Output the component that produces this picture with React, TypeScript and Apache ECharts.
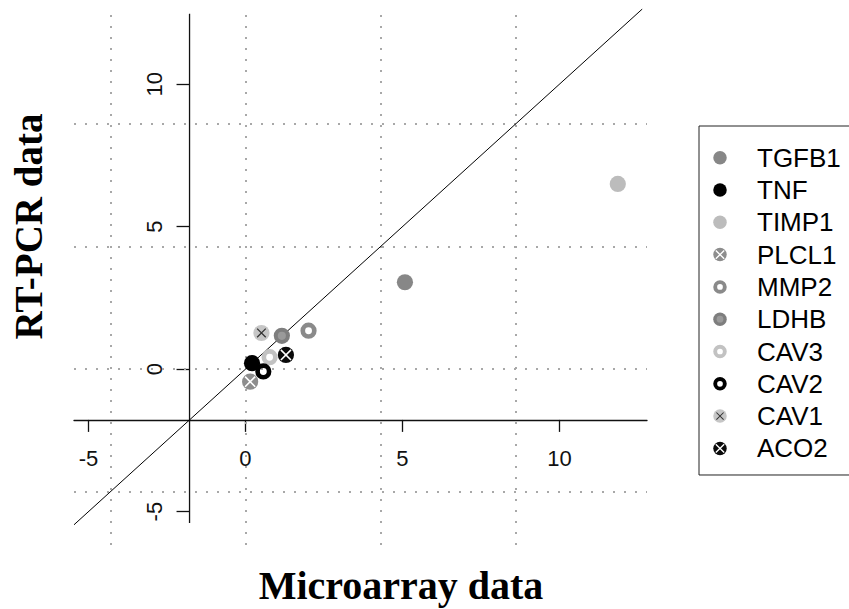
import React, { useEffect, useRef } from "react";
import * as echarts from "echarts";

// ---- data ----
const genes = ["TGFB1", "TNF", "TIMP1", "PLCL1", "MMP2", "LDHB", "CAV3", "CAV2", "CAV1", "ACO2"];
const microarray = [5.08, 0.21, 11.86, 0.15, 2.01, 1.16, 0.77, 0.57, 0.51, 1.29];
const rtpcr = [3.05, 0.21, 6.5, -0.44, 1.35, 1.17, 0.42, -0.08, 1.27, 0.5];
const markerKinds = ["disk", "disk", "disk", "diskX", "ring", "diskCore", "ring", "ring", "diskXDark", "diskX"];
const markerColors = ["#878787", "#000000", "#bcbcbc", "#8d8d8d", "#8a8a8a", "#7e7e7e", "#c2c2c2", "#000000", "#c6c6c6", "#0a0a0a"];
const tickValues = [-5, 0, 5, 10];
const gridValues = [-4.3, 0, 4.3, 8.6];
const xRange = [-5.46, 12.79];
const yRange = [-6.17, 12.64];
const axisCross = -1.78;
const yAxisLineSpan = [-5.4, 12.47];
const xTitle = "Microarray data";
const yTitle = "RT-PCR data";

function markerSymbol(kind: string, color: string): string {
  let body = "";
  if (kind === "ring") {
    body = `<circle cx="10" cy="10" r="6.4" fill="none" stroke="${color}" stroke-width="5.2"/>`;
  } else {
    body = `<circle cx="10" cy="10" r="9" fill="${color}"/>`;
  }
  if (kind === "diskX") {
    body += `<path d="M4.4 4.4L15.6 15.6M15.6 4.4L4.4 15.6" stroke="#ffffff" stroke-width="1.8"/>`;
  }
  if (kind === "diskXDark") {
    body += `<path d="M5.2 5.2L14.8 14.8M14.8 5.2L5.2 14.8" stroke="#333333" stroke-width="1.4"/>`;
  }
  if (kind === "diskCore") {
    body += `<circle cx="10" cy="10" r="4.5" fill="#9a9a9a"/>`;
  }
  const svg = `<svg xmlns="http://www.w3.org/2000/svg" width="20" height="20" viewBox="0 0 20 20">${body}</svg>`;
  return "image://data:image/svg+xml;charset=utf-8," + encodeURIComponent(svg);
}

export default function App() {
  const ref = useRef<HTMLDivElement>(null);

  useEffect(() => {
    document.body.style.margin = "0";
    if (!ref.current) return;
    const chart = echarts.init(ref.current, null, { renderer: "svg" });

    const grid = { left: 74, top: 9, width: 573, height: 536 };
    const xOffset = -((axisCross - yRange[0]) / (yRange[1] - yRange[0])) * grid.height;
    const yOffset = -((axisCross - xRange[0]) / (xRange[1] - xRange[0])) * grid.width;
    const symbols = genes.map((_, i) => markerSymbol(markerKinds[i], markerColors[i]));
    const axisColor = "#111111";
    const labelFont = "Liberation Sans";

    const diagLo = Math.max(xRange[0], yRange[0]);
    const diagHi = Math.min(xRange[1], yRange[1]);

    const option: any = {
      animation: false,
      backgroundColor: "#ffffff",
      grid: { ...grid, containLabel: false, outerBoundsMode: "none" },
      xAxis: {
        type: "value",
        min: xRange[0],
        max: xRange[1],
        position: "bottom",
        offset: xOffset,
        axisLine: { show: true, onZero: false, lineStyle: { color: axisColor, width: 1.3 } },
        axisTick: { show: true, customValues: tickValues, length: 12, lineStyle: { color: axisColor, width: 1.3 } },
        axisLabel: { customValues: tickValues, margin: 28, fontSize: 22, fontFamily: labelFont, color: axisColor },
        splitLine: { show: false },
      },
      yAxis: {
        type: "value",
        min: yRange[0],
        max: yRange[1],
        position: "left",
        offset: yOffset,
        axisLine: { show: false, onZero: false },
        axisTick: { show: true, customValues: tickValues, length: 13, lineStyle: { color: axisColor, width: 1.3 } },
        axisLabel: { customValues: tickValues, rotate: 90, margin: 24, fontSize: 22, fontFamily: labelFont, color: axisColor },
        splitLine: { show: false },
      },
      legend: {
        orient: "vertical",
        left: 699,
        top: 126,
        padding: [17.7, 50, 12.6, 13.5],
        itemWidth: 15,
        itemHeight: 15,
        itemGap: 4.3,
        borderColor: "#222222",
        borderWidth: 1,
        selectedMode: false,
        data: genes.map((g, i) => ({ name: g, icon: symbols[i] })),
        textStyle: { fontFamily: labelFont, fontSize: 26, lineHeight: 28, color: "#000000", padding: [0, 0, 0, 24.5] },
      },
      graphic: [
        {
          type: "text",
          x: 401,
          y: 585,
          style: { text: xTitle, fontFamily: "Liberation Serif", fontWeight: "bold", fontSize: 40, fill: "#000000", align: "center", verticalAlign: "middle" },
        },
        {
          type: "text",
          x: 28,
          y: 226.5,
          rotation: Math.PI / 2,
          style: { text: yTitle, fontFamily: "Liberation Serif", fontWeight: "bold", fontSize: 39, fill: "#000000", align: "center", verticalAlign: "middle" },
        },
      ],
      series: [
        {
          type: "line",
          name: "axisY",
          data: [[axisCross, yAxisLineSpan[0]], [axisCross, yAxisLineSpan[1]]],
          symbol: "none",
          silent: true,
          z: 3,
          lineStyle: { color: axisColor, width: 1.3 },
          markLine: {
            silent: true,
            symbol: ["none", "none"],
            label: { show: false },
            emphasis: { disabled: true },
            lineStyle: { type: [2, 9], color: "#a8a8a8", width: 2, cap: "butt" },
            data: [
              ...gridValues.map((v) => ({ xAxis: v })),
              ...gridValues.map((v) => ({ yAxis: v })),
            ],
            z: 1,
          },
        },
        {
          type: "line",
          name: "identity",
          data: [[diagLo, diagLo], [diagHi, diagHi]],
          symbol: "none",
          silent: true,
          z: 3,
          lineStyle: { color: "#000000", width: 1 },
        },
        ...genes.map((g, i) => ({
          type: "scatter",
          name: g,
          data: [[microarray[i], rtpcr[i]]],
          symbol: symbols[i],
          symbolSize: 18,
          itemStyle: { opacity: 1 },
          silent: true,
          z: 5,
        })),
      ],
    };

    chart.setOption(option);
    return () => chart.dispose();
  }, []);

  return <div ref={ref} style={{ width: 849, height: 609 }} />;
}
